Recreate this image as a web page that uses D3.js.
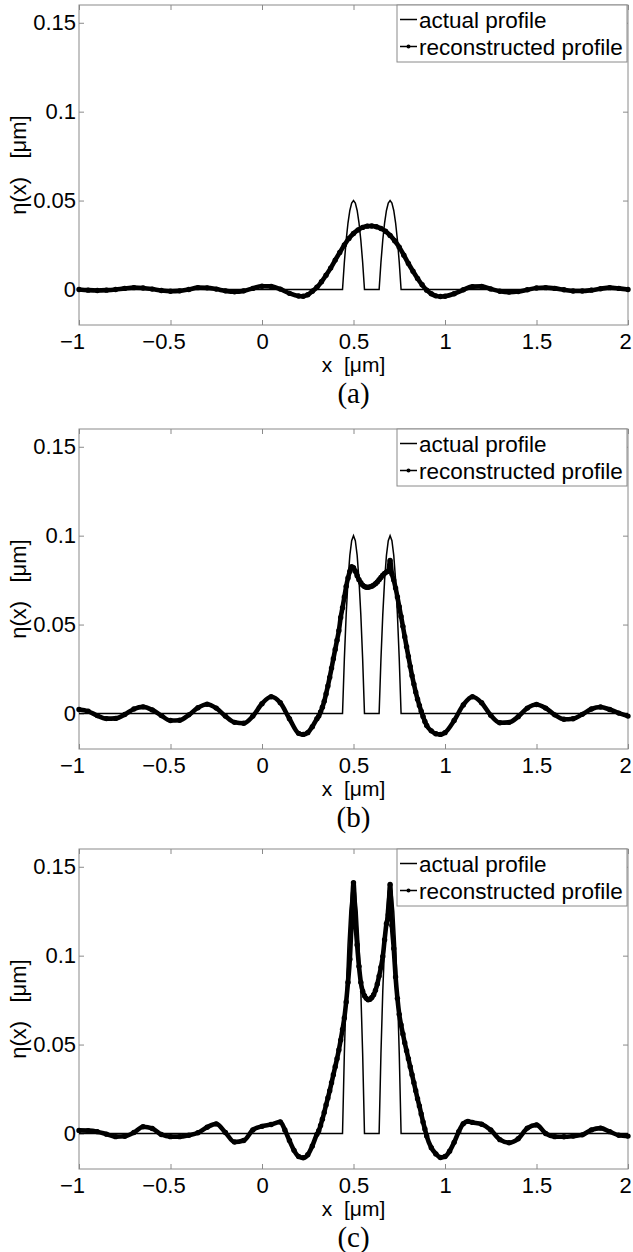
<!DOCTYPE html>
<html>
<head>
<meta charset="utf-8">
<script src="https://cdn.jsdelivr.net/npm/d3@7"></script>
<style>
  body { margin: 0; background: #fff; }
  svg { display: block; }
</style>
</head>
<body>
<div id="chart"></div>
<script>
// axis ticks and labels
const xTicks = [-1, -0.5, 0, 0.5, 1, 1.5, 2];
const xTickLabels = ["\u22121", "\u22120.5", "0", "0.5", "1", "1.5", "2"];
const yTicks = [0, 0.05, 0.1, 0.15];
const yTickLabels = ["0", "0.05", "0.1", "0.15"];
const panelNames = ["(a)", "(b)", "(c)"];
const legendNames = ["actual profile", "reconstructed profile"];

// actual profile: two bumps, same x positions in every panel
const actualX = [-1, 0.44, 0.45, 0.46, 0.47, 0.48, 0.49, 0.5, 0.51, 0.52, 0.53, 0.54, 0.55, 0.56,
                 0.64, 0.65, 0.66, 0.67, 0.68, 0.69, 0.7, 0.71, 0.72, 0.73, 0.74, 0.75, 0.76, 2];
const actualA = [0, 0, 0.0153, 0.0278, 0.0375, 0.0444, 0.0486, 0.05, 0.0486, 0.0444, 0.0375, 0.0278, 0.0153, 0,
                 0, 0.0153, 0.0278, 0.0375, 0.0444, 0.0486, 0.05, 0.0486, 0.0444, 0.0375, 0.0278, 0.0153, 0, 0];
const actualB = [0, 0, 0.0306, 0.0556, 0.075, 0.0889, 0.0972, 0.1, 0.0972, 0.0889, 0.075, 0.0556, 0.0306, 0,
                 0, 0.0306, 0.0556, 0.075, 0.0889, 0.0972, 0.1, 0.0972, 0.0889, 0.075, 0.0556, 0.0306, 0, 0];
const actualC = [0, 0, 0.045, 0.08, 0.106, 0.125, 0.136, 0.14, 0.136, 0.125, 0.106, 0.08, 0.045, 0,
                 0, 0.045, 0.08, 0.106, 0.125, 0.136, 0.14, 0.136, 0.125, 0.106, 0.08, 0.045, 0, 0];

// reconstructed profiles [x, eta]
const reconA = [[-1, 0], [-0.95, -0.0004], [-0.9, -0.0006], [-0.85, -0.0004], [-0.8, 0], [-0.75, 0.0006],
  [-0.7, 0.001], [-0.65, 0.0008], [-0.6, 0.0002], [-0.55, -0.0006], [-0.5, -0.001], [-0.45, -0.0008],
  [-0.4, 0], [-0.35, 0.001], [-0.3, 0.0009], [-0.25, 0.0002], [-0.2, -0.0008], [-0.15, -0.0013],
  [-0.1, -0.0008], [-0.05, 0.0006], [0, 0.0018], [0.05, 0.0017], [0.1, 0.0002], [0.15, -0.0022],
  [0.2, -0.0037], [0.225, -0.0038], [0.25, -0.003], [0.275, -0.001], [0.3, 0.0012], [0.325, 0.0043],
  [0.35, 0.008], [0.375, 0.012], [0.4, 0.0165], [0.425, 0.0208], [0.45, 0.025], [0.475, 0.0287],
  [0.5, 0.0315], [0.525, 0.0335], [0.55, 0.0349], [0.575, 0.0356], [0.6, 0.0357], [0.625, 0.0353],
  [0.65, 0.0343], [0.675, 0.0327], [0.7, 0.0304], [0.725, 0.0274], [0.75, 0.0238], [0.775, 0.0193],
  [0.8, 0.0146], [0.825, 0.0103], [0.85, 0.0062], [0.875, 0.0026], [0.9, -0.0004], [0.925, -0.0024],
  [0.95, -0.0036], [0.975, -0.004], [1, -0.0038], [1.05, -0.0024], [1.1, -0.0002], [1.15, 0.0016],
  [1.2, 0.0017], [1.25, 0.0003], [1.3, -0.001], [1.35, -0.0015], [1.4, -0.0012], [1.45, -0.0002],
  [1.5, 0.0008], [1.55, 0.001], [1.6, 0.0006], [1.65, -0.0002], [1.7, -0.0009], [1.75, -0.0009],
  [1.8, -0.0004], [1.85, 0.0004], [1.9, 0.001], [1.95, 0.0006], [2, 0]];

const reconB = [[-1, 0.0022], [-0.95, 0.0012], [-0.9, -0.0012], [-0.85, -0.0029], [-0.8, -0.0028],
  [-0.75, -0.0006], [-0.7, 0.0025], [-0.65, 0.0037], [-0.6, 0.002], [-0.55, -0.0012], [-0.5, -0.004],
  [-0.45, -0.0038], [-0.4, -0.0008], [-0.35, 0.0032], [-0.3, 0.0052], [-0.25, 0.003], [-0.2, -0.0015],
  [-0.15, -0.005], [-0.1, -0.0055], [-0.05, -0.0015], [0, 0.0055], [0.05, 0.0094], [0.1, 0.006],
  [0.15, -0.003], [0.2, -0.0112], [0.225, -0.0118], [0.25, -0.0108], [0.275, -0.0075], [0.3, -0.003],
  [0.31, -0.0015], [0.32, 0.0008], [0.33, 0.0035], [0.34, 0.0068], [0.35, 0.011], [0.36, 0.0155],
  [0.37, 0.0203], [0.38, 0.0255], [0.39, 0.0308], [0.4, 0.036], [0.41, 0.0412], [0.42, 0.0465],
  [0.43, 0.054], [0.44, 0.0595], [0.45, 0.0655], [0.46, 0.0715], [0.47, 0.0762], [0.48, 0.08],
  [0.49, 0.0825], [0.5, 0.082], [0.51, 0.08], [0.52, 0.0775], [0.53, 0.0752], [0.54, 0.0735],
  [0.55, 0.0722], [0.56, 0.0714], [0.57, 0.071], [0.58, 0.071], [0.59, 0.0712], [0.6, 0.0716],
  [0.61, 0.0722], [0.62, 0.073], [0.63, 0.074], [0.64, 0.0752], [0.65, 0.0765], [0.66, 0.0778],
  [0.67, 0.0788], [0.68, 0.0795], [0.69, 0.08], [0.7, 0.086], [0.71, 0.0785], [0.72, 0.075],
  [0.73, 0.0705], [0.74, 0.0655], [0.75, 0.06], [0.76, 0.0545], [0.77, 0.049], [0.78, 0.0432],
  [0.79, 0.0375], [0.8, 0.032], [0.81, 0.0265], [0.82, 0.0212], [0.83, 0.0165], [0.84, 0.012],
  [0.85, 0.008], [0.86, 0.0045], [0.87, 0.0013], [0.88, -0.0017], [0.89, -0.0045], [0.9, -0.0068],
  [0.925, -0.0098], [0.95, -0.0114], [0.975, -0.0118], [1, -0.0108], [1.05, -0.004], [1.1, 0.0048],
  [1.15, 0.0094], [1.2, 0.006], [1.25, -0.001], [1.3, -0.0052], [1.35, -0.005], [1.4, -0.0018],
  [1.45, 0.003], [1.5, 0.005], [1.55, 0.003], [1.6, -0.0008], [1.65, -0.0033], [1.7, -0.003],
  [1.75, -0.0005], [1.8, 0.0025], [1.85, 0.0036], [1.9, 0.0022], [1.95, 0.0002], [2, -0.0015]];

const reconC = [[-1, 0.0017], [-0.95, 0.0016], [-0.9, 0.001], [-0.85, -0.0004], [-0.8, -0.0018],
  [-0.75, -0.0016], [-0.7, 0.0005], [-0.65, 0.0038], [-0.6, 0.0028], [-0.55, -0.0006], [-0.5, -0.0018],
  [-0.45, -0.0018], [-0.4, -0.001], [-0.35, 0.0004], [-0.3, 0.0035], [-0.25, 0.0054], [-0.2, 0.0005],
  [-0.15, -0.0048], [-0.1, -0.004], [-0.05, 0.002], [0, 0.004], [0.05, 0.005], [0.1, 0.0065],
  [0.125, 0.002], [0.15, -0.004], [0.175, -0.0095], [0.2, -0.013], [0.225, -0.0137], [0.25, -0.012],
  [0.275, -0.007], [0.3, -0.0005], [0.31, 0.0015], [0.32, 0.0045], [0.33, 0.008], [0.34, 0.0118],
  [0.35, 0.016], [0.36, 0.02], [0.37, 0.024], [0.38, 0.0285], [0.39, 0.033], [0.4, 0.0375],
  [0.41, 0.042], [0.42, 0.047], [0.43, 0.0525], [0.44, 0.0585], [0.45, 0.065], [0.46, 0.074],
  [0.47, 0.085], [0.48, 0.098], [0.49, 0.12], [0.5, 0.141], [0.51, 0.12], [0.52, 0.106],
  [0.53, 0.094], [0.54, 0.085], [0.55, 0.08], [0.56, 0.0775], [0.57, 0.076], [0.58, 0.0752],
  [0.59, 0.0755], [0.6, 0.0765], [0.61, 0.078], [0.62, 0.0805], [0.63, 0.084], [0.64, 0.0885],
  [0.65, 0.0935], [0.66, 0.0995], [0.67, 0.109], [0.68, 0.118], [0.69, 0.123], [0.7, 0.14],
  [0.71, 0.117], [0.72, 0.104], [0.73, 0.088], [0.74, 0.076], [0.75, 0.067], [0.76, 0.061],
  [0.77, 0.056], [0.78, 0.051], [0.79, 0.0465], [0.8, 0.042], [0.81, 0.0375], [0.82, 0.033],
  [0.83, 0.0285], [0.84, 0.024], [0.85, 0.0195], [0.86, 0.0155], [0.87, 0.011], [0.88, 0.0065],
  [0.89, 0.0025], [0.9, -0.0015], [0.925, -0.008], [0.95, -0.0115], [0.975, -0.0135], [1, -0.013],
  [1.025, -0.01], [1.05, -0.005], [1.075, 0.001], [1.1, 0.0055], [1.125, 0.0068], [1.15, 0.0062],
  [1.2, 0.0052], [1.25, 0.002], [1.3, -0.0035], [1.35, -0.0052], [1.4, -0.003], [1.45, 0.003],
  [1.5, 0.0048], [1.55, 0], [1.6, -0.0018], [1.65, -0.0019], [1.7, -0.0015], [1.75, -0.0008],
  [1.8, 0.002], [1.85, 0.003], [1.9, 0.001], [1.95, -0.001], [2, -0.0015]];

const panels = [
  { name: panelNames[0], actual: actualA, recon: reconA },
  { name: panelNames[1], actual: actualB, recon: reconB },
  { name: panelNames[2], actual: actualC, recon: reconC }
];

const W = 633, H = 1252;
const left = 79, right = 628, plotH = 320;
const panelTops = [5, 429, 849];
const gray = "#8a8a8a";
const sans = "'Liberation Sans', Arial, Helvetica, sans-serif";

const svg = d3.select("#chart").append("svg")
  .attr("width", W)
  .attr("height", H);

panels.forEach((p, i) => {
  const top = panelTops[i];
  const bottom = top + plotH;

  const x = d3.scaleLinear().domain([-1, 2]).range([left, right]);
  const y = d3.scaleLinear().domain([-0.02, 0.16]).range([bottom, top]);

  const g = svg.append("g");

  // box
  g.append("rect")
    .attr("x", left).attr("y", top)
    .attr("width", right - left).attr("height", plotH)
    .attr("fill", "none").attr("stroke", gray).attr("stroke-width", 1);

  // ticks on all four sides, pointing inward
  const xAxis = g.append("g").attr("transform", `translate(0,${bottom})`)
    .call(d3.axisBottom(x).tickValues(xTicks).tickSize(-5).tickSizeOuter(0).tickPadding(8)
      .tickFormat((d, k) => xTickLabels[k]));
  g.append("g").attr("transform", `translate(${left},0)`)
    .call(d3.axisLeft(y).tickValues(yTicks).tickSize(-5).tickSizeOuter(0).tickPadding(3)
      .tickFormat((d, k) => yTickLabels[k]));
  g.append("g").attr("transform", `translate(0,${top})`)
    .call(d3.axisTop(x).tickValues(xTicks).tickSize(-5).tickSizeOuter(0).tickFormat(""));
  g.append("g").attr("transform", `translate(${right},0)`)
    .call(d3.axisRight(y).tickValues(yTicks).tickSize(-5).tickSizeOuter(0).tickFormat(""));

  g.selectAll(".domain").remove();
  g.selectAll(".tick line").attr("stroke", gray);
  g.selectAll(".tick text")
    .attr("fill", "#000")
    .style("font-family", sans)
    .style("font-size", "22px");
  // minus sign hangs to the left; last label sits against the edge
  xAxis.selectAll(".tick text").attr("dx", d => d < 0 ? -7 : (d === 2 ? -3 : 0));

  // actual profile (thin)
  const actualPts = actualX.map((v, k) => [v, p.actual[k]]);
  g.append("path")
    .datum(actualPts)
    .attr("fill", "none")
    .attr("stroke", "#000")
    .attr("stroke-width", 1.5)
    .attr("d", d3.line().x(d => x(d[0])).y(d => y(d[1])));

  // reconstructed profile (thick, dotted markers)
  g.append("path")
    .datum(p.recon)
    .attr("fill", "none")
    .attr("stroke", "#000")
    .attr("stroke-width", 4.6)
    .attr("stroke-linejoin", "round")
    .attr("d", d3.line().curve(d3.curveMonotoneX).x(d => x(d[0])).y(d => y(d[1])));

  g.selectAll(".dot")
    .data(p.recon)
    .enter().append("circle")
    .attr("cx", d => x(d[0]))
    .attr("cy", d => y(d[1]))
    .attr("r", 2.7)
    .attr("fill", "#000");

  // legend
  const lx = 397, lw = right - 1 - lx;
  const leg = g.append("g");
  leg.append("rect")
    .attr("x", lx).attr("y", top)
    .attr("width", lw).attr("height", 57)
    .attr("fill", "#fff").attr("stroke", gray).attr("stroke-width", 1);
  legendNames.forEach((name, k) => {
    const ly = top + 14.5 + k * 27;
    leg.append("line")
      .attr("x1", lx + 3).attr("x2", lx + 20)
      .attr("y1", ly).attr("y2", ly)
      .attr("stroke", "#000").attr("stroke-width", 1.5);
    if (k === 1) {
      leg.append("circle").attr("cx", lx + 11.5).attr("cy", ly).attr("r", 2).attr("fill", "#000");
    }
    leg.append("text")
      .attr("x", lx + 22).attr("y", ly)
      .attr("dy", "0.36em")
      .style("font-family", sans)
      .style("font-size", "22.5px")
      .text(name);
  });

  // axis titles
  g.append("text")
    .attr("x", (left + right) / 2)
    .attr("y", bottom + 47)
    .attr("text-anchor", "middle")
    .attr("xml:space", "preserve")
    .style("white-space", "pre")
    .style("font-family", sans)
    .style("font-size", "21px")
    .text("x  [\u03bcm]");

  g.append("text")
    .attr("transform", `translate(26,${top + 160}) rotate(-90)`)
    .attr("text-anchor", "middle")
    .attr("xml:space", "preserve")
    .style("white-space", "pre")
    .style("font-family", sans)
    .style("font-size", "22px")
    .text("\u03b7(x)   [\u03bcm]");

  // panel caption
  g.append("text")
    .attr("x", (left + right) / 2)
    .attr("y", bottom + 78)
    .attr("text-anchor", "middle")
    .style("font-family", "'Liberation Serif', 'Times New Roman', serif")
    .style("font-size", "29px")
    .text(p.name);
});
</script>
</body>
</html>
